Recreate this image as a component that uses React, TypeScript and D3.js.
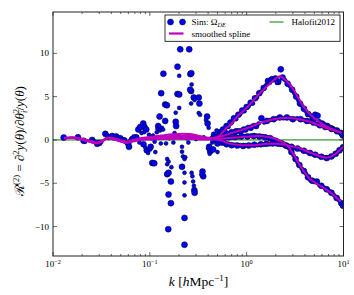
import React from 'react';
import * as d3 from 'd3';

const W = 354, H = 295;
const PL = 53, PR = 343.5, PT = 12, PB = 256;

const kDomain: [number, number] = [0.01, 10];
const rDomain: [number, number] = [-13.4, 14.77];
const xMajor = [0.01, 0.1, 1, 10];
const xMajorExp = ['−2', '−1', '0', '1'];
const yMajor = [-10, -5, 0, 5, 10];
const yMajorLabels = ['−10', '−5', '0', '5', '10'];
const minorMult = [2, 3, 4, 5, 6, 7, 8, 9];

// smoothed spline curves (k, R2)
const splineA: [number, number][] = [[0.013,0.25],[0.016,0.32],[0.02,0.15],[0.024,-0.1],[0.028,-0.3],[0.032,-0.1],[0.036,0.25],[0.042,0.22],[0.05,-0.02],[0.058,-0.18],[0.068,0.02],[0.08,0.2],[0.1,0.35],[0.13,0.5],[0.17,0.65],[0.22,0.72],[0.28,0.62],[0.35,0.38],[0.45,0.2],[0.52,0.45],[0.6,1.2],[0.7,1.9],[0.8,2.7],[1.0,3.7],[1.2,4.7],[1.4,5.5],[1.7,6.4],[2.0,7.1],[2.2,7.35],[2.45,7.0],[2.8,6.4],[3.2,5.4],[3.7,4.2],[4.3,3.2],[5.0,2.5],[6.0,1.85],[7.0,1.45],[8.0,1.15],[9.0,0.9],[9.5,0.8]];
const splineB: [number, number][] = [[0.013,0.2],[0.016,0.28],[0.02,0.1],[0.024,-0.15],[0.028,-0.35],[0.032,-0.15],[0.036,0.2],[0.042,0.16],[0.05,-0.08],[0.058,-0.25],[0.068,-0.05],[0.08,0.15],[0.1,0.25],[0.13,0.35],[0.17,0.45],[0.22,0.52],[0.28,0.45],[0.35,0.3],[0.45,0.2],[0.52,0.35],[0.7,0.8],[1.0,1.35],[1.5,2.1],[2.2,2.5],[3.0,2.5],[4.5,2.1],[6.2,1.5],[8.5,1.0],[9.5,0.85]];
const splineC: [number, number][] = [[0.013,0.18],[0.016,0.24],[0.02,0.05],[0.024,-0.2],[0.028,-0.42],[0.032,-0.2],[0.036,0.18],[0.042,0.1],[0.05,-0.15],[0.058,-0.3],[0.068,-0.1],[0.08,0.08],[0.1,0.18],[0.13,0.25],[0.17,0.3],[0.22,0.36],[0.28,0.3],[0.35,0.2],[0.45,0.12],[0.53,0.15],[0.85,0.3],[1.37,0.45],[1.89,0.2],[2.6,-0.6],[3.06,-1.7],[3.57,-3.0],[4.5,-4.5],[5.95,-5.4],[7.5,-6.15],[8.9,-6.9],[9.4,-7.1]];
const splineD: [number, number][] = [[0.013,0.2],[0.016,0.22],[0.02,0.02],[0.024,-0.22],[0.028,-0.38],[0.032,-0.22],[0.036,0.15],[0.042,0.08],[0.05,-0.18],[0.058,-0.32],[0.068,-0.15],[0.08,0.0],[0.1,0.05],[0.13,0.1],[0.17,0.12],[0.22,0.15],[0.28,0.1],[0.35,0.05],[0.45,0.05],[0.53,0.0],[0.65,-0.4],[0.9,-0.6],[1.2,-0.6],[1.6,-0.45],[2.0,-0.45],[2.6,-0.6],[3.5,-0.95],[4.5,-1.45],[5.5,-1.8],[6.6,-2.05],[7.5,-1.9],[8.5,-1.5],[9.5,-1.0],[10,-0.8]];

// simulation points, large markers
const simLargeMid: [number, number][] = [[0.0129,0.27],[0.0181,0.3],[0.0207,-0.1],[0.0254,0.0],[0.0286,-0.45],[0.03,-0.35],[0.0347,0.7],[0.0372,0.35],[0.0409,0.45],[0.045,0.4],[0.0495,0.2],[0.0544,-0.05],[0.0598,-0.4],[0.061,-0.8],[0.0658,0.1],[0.0724,0.3],[0.076,1.2],[0.0796,1.5],[0.0855,1.9],[0.088,1.5],[0.0918,1.2],[0.086,-0.5],[0.093,-1.2],[0.102,-0.8],[0.106,-2.65],[0.111,-2.7],[0.122,1.6],[0.126,2.7],[0.131,5.4],[0.138,7.65],[0.144,4.1],[0.15,4.0],[0.144,2.2],[0.155,-10.3],[0.156,-6.3],[0.165,-7.3],[0.165,-4.8],[0.151,-3.95],[0.156,-3.8],[0.193,8.46],[0.206,10.46],[0.255,10.46],[0.193,5.3],[0.201,5.25],[0.185,2.1],[0.187,1.6],[0.228,-12.1],[0.228,-9.0],[0.215,-3.1],[0.262,7.6],[0.268,7.7],[0.267,5.65],[0.261,5.8],[0.284,4.9],[0.288,-5.8],[0.29,-6.1],[0.32,4.9],[0.325,4.2],[0.35,-3.65],[0.356,-4.2],[0.39,2.7],[0.395,1.9],[0.41,-0.8],[0.42,-1.3],[0.46,0.6],[0.48,0.0],[0.5,-0.4],[0.45,-1.1]];
const simSmallMid: [number, number][] = [[0.0215,-0.2],[0.0262,-0.1],[0.0279,-0.3],[0.0315,-0.25],[0.036,0.55],[0.0385,0.25],[0.042,0.2],[0.047,0.1],[0.052,0.05],[0.057,-0.3],[0.063,-0.05],[0.068,0.4],[0.07,0.0],[0.078,-0.3],[0.082,0.8],[0.087,0.9],[0.09,-0.9],[0.096,-1.5],[0.098,0.6],[0.101,-1.1],[0.104,0.2],[0.108,0.5],[0.112,-0.2],[0.114,-1.4],[0.118,0.9],[0.12,1.3],[0.128,1.1],[0.133,1.4],[0.137,1.2],[0.13,-0.4],[0.14,0.3],[0.147,-0.4],[0.151,-2.2],[0.156,-2.5],[0.151,-2.8],[0.167,-3.15],[0.16,0.2],[0.17,0.3],[0.175,-0.3],[0.18,0.8],[0.185,3.15],[0.201,3.7],[0.201,7.4],[0.21,0.3],[0.215,-0.8],[0.215,-1.35],[0.22,-1.9],[0.228,-2.2],[0.232,-2.0],[0.228,-3.8],[0.228,-4.9],[0.228,-6.4],[0.24,0.2],[0.25,-0.3],[0.26,0.5],[0.267,4.2],[0.27,6.4],[0.27,-3.8],[0.275,-4.2],[0.28,-4.8],[0.285,-5.3],[0.29,4.6],[0.3,0.1],[0.32,3.1],[0.33,2.9],[0.34,-4.0],[0.36,0.3],[0.38,2.3],[0.4,-1.0],[0.405,1.4],[0.415,-1.6],[0.43,0.2],[0.44,-0.3],[0.47,0.4],[0.49,1.1],[0.5,-1.4]];
const simLargeA: [number, number][] = [[0.53,0.9],[0.57,1.2],[0.62,1.6],[0.68,2.0],[0.74,2.5],[0.82,2.9],[0.9,3.4],[1.0,3.8],[1.1,4.3],[1.22,4.8],[1.35,5.4],[1.5,6.0],[1.66,6.8],[1.82,7.0],[1.98,7.1],[2.12,6.7],[2.25,8.15],[2.35,7.2],[2.65,6.5],[2.95,5.8],[3.25,5.0],[3.55,4.2],[3.9,3.6],[4.3,3.0],[4.8,2.6],[5.1,2.9],[5.4,2.8],[6.0,1.9],[6.8,1.6],[7.6,1.3],[8.5,1.1],[9.5,0.8],[9.9,0.5]];
const simSmallA: [number, number][] = [[0.51,0.5],[0.55,0.7],[0.6,1.1],[0.65,1.5],[0.71,2.1],[0.78,2.4],[0.86,3.0],[0.95,3.3],[1.05,3.9],[1.16,4.2],[1.28,4.9],[1.42,5.6],[1.58,6.3],[1.74,6.6],[1.9,6.9],[2.05,6.6],[2.5,6.9],[2.8,6.2],[3.1,5.4],[3.4,4.6],[3.7,4.0],[4.1,3.3],[4.5,2.9],[5.6,2.2],[6.4,1.8],[7.2,1.5],[8.0,1.2],[9.0,0.9]];
const simLargeB: [number, number][] = [[0.55,0.5],[0.62,0.7],[0.7,0.9],[0.78,1.0],[0.87,1.0],[0.97,1.2],[1.1,1.4],[1.25,1.6],[1.42,2.5],[1.62,2.2],[1.9,2.4],[2.2,2.6],[2.6,2.6],[3.0,2.4],[3.6,2.4],[4.2,2.2],[4.9,2.0],[5.7,1.7],[6.5,1.5],[7.5,1.3],[8.6,1.0],[9.8,0.6]];
const simSmallB: [number, number][] = [[0.52,0.3],[0.58,0.4],[0.66,0.6],[0.74,0.8],[0.82,1.1],[0.92,1.3],[1.03,1.5],[1.17,1.7],[1.33,1.9],[1.52,2.0],[1.75,2.3],[2.05,2.5],[2.4,2.5],[2.8,2.5],[3.3,2.5],[3.9,2.3],[4.5,2.1],[5.3,1.8],[6.1,1.6],[7.0,1.4],[8.0,1.2],[9.2,0.9]];
const simLargeC: [number, number][] = [[0.56,0.2],[0.65,0.3],[0.76,0.35],[0.88,0.4],[1.02,0.4],[1.18,0.45],[1.35,0.4],[1.55,0.3],[1.75,0.2],[2.0,-0.1],[2.3,-0.4],[2.6,-0.7],[2.9,-1.4],[3.2,-2.2],[3.5,-2.9],[3.9,-3.6],[4.3,-4.3],[4.75,-4.7],[5.3,-4.8],[5.9,-5.3],[6.7,-5.7],[7.5,-6.1],[8.5,-6.7],[9.5,-7.3],[9.9,-7.6]];
const simSmallC: [number, number][] = [[0.52,0.1],[0.6,0.15],[0.7,0.25],[0.82,0.3],[0.95,0.45],[1.1,0.5],[1.26,0.5],[1.45,0.45],[1.65,0.3],[1.88,0.1],[2.15,-0.2],[2.45,-0.5],[2.75,-1.0],[3.05,-1.8],[3.35,-2.6],[3.7,-3.3],[4.1,-3.9],[4.5,-4.6],[5.0,-4.85],[5.6,-5.2],[6.3,-5.5],[7.1,-5.9],[8.0,-6.4],[9.0,-7.0]];
const simLargeD: [number, number][] = [[0.55,-0.3],[0.62,-0.5],[0.7,-0.6],[0.8,-0.65],[0.92,-0.7],[1.05,-0.65],[1.2,-0.55],[1.4,-0.5],[1.6,-0.45],[1.85,-0.4],[2.15,-0.45],[2.5,-0.6],[2.9,-0.8],[3.35,-1.0],[3.9,-1.25],[4.5,-1.5],[5.1,-1.7],[5.9,-1.95],[6.7,-2.1],[7.5,-1.9],[8.3,-1.6],[9.1,-1.2],[9.9,-0.85]];
const simSmallD: [number, number][] = [[0.52,-0.1],[0.58,-0.4],[0.66,-0.45],[0.75,-0.55],[0.86,-0.6],[0.98,-0.6],[1.12,-0.6],[1.3,-0.6],[1.5,-0.55],[1.72,-0.5],[2.0,-0.5],[2.3,-0.55],[2.7,-0.7],[3.1,-0.9],[3.6,-1.1],[4.2,-1.4],[4.8,-1.65],[5.5,-1.85],[6.3,-2.0],[7.1,-2.0],[7.9,-1.8],[8.7,-1.4],[9.5,-1.0]];

const halofit: [number, number][] = [[0.01, 0], [10, 0]];

const FONT = "'Liberation Serif', 'DejaVu Serif', serif";
const BLUE = '#0000ff';
const MAG = '#bf00bf';
const GREEN = '#008000';

export default function App() {
  const x = d3.scaleLog().domain(kDomain).range([PL, PR]);
  const y = d3.scaleLinear().domain(rDomain).range([PB, PT]);
  const line = d3.line<[number, number]>()
    .x(d => x(d[0]))
    .y(d => y(d[1]))
    .curve(d3.curveCatmullRom.alpha(0.5));
  const lineStraight = d3.line<[number, number]>().x(d => x(d[0])).y(d => y(d[1]));

  const minorTicks: number[] = [];
  [0.01, 0.1, 1].forEach(dec => minorMult.forEach(m => minorTicks.push(dec * m)));

  const large = [...simLargeMid, ...simLargeA, ...simLargeB, ...simLargeC, ...simLargeD];
  const small = [...simSmallMid, ...simSmallA, ...simSmallB, ...simSmallC, ...simSmallD];
  const splines = [splineD, splineC, splineB, splineA];

  return (
    <svg width={W} height={H} style={{ position: 'absolute', left: 0, top: 0, background: '#fff' }} fontFamily={FONT}>
      <rect x={0} y={0} width={W} height={H} fill="#fff" />
      <defs>
        <clipPath id="plotclip">
          <rect x={PL} y={PT} width={PR - PL} height={PB - PT} />
        </clipPath>
      </defs>
      <g clipPath="url(#plotclip)">
        <path d={lineStraight(halofit) || ''} stroke={GREEN} strokeWidth={1} fill="none" />
        {large.map((d, i) => (
          <circle key={'L' + i} cx={x(d[0])} cy={y(d[1])} r={3} fill={BLUE} stroke="#000" strokeWidth={0.5} />
        ))}
        {small.map((d, i) => (
          <circle key={'S' + i} cx={x(d[0])} cy={y(d[1])} r={2} fill={BLUE} stroke="#000" strokeWidth={0.5} />
        ))}
        {splines.map((s, i) => (
          <path key={'sp' + i} d={line(s) || ''} stroke={MAG} strokeWidth={2} fill="none" strokeLinejoin="round" />
        ))}
      </g>

      {/* ticks */}
      <g stroke="#000" strokeWidth={0.6}>
        {xMajor.map((t, i) => (
          <g key={'xm' + i}>
            <line x1={x(t)} x2={x(t)} y1={PB} y2={PB - 4} />
            <line x1={x(t)} x2={x(t)} y1={PT} y2={PT + 4} />
          </g>
        ))}
        {minorTicks.map((t, i) => (
          <g key={'xn' + i}>
            <line x1={x(t)} x2={x(t)} y1={PB} y2={PB - 2} />
            <line x1={x(t)} x2={x(t)} y1={PT} y2={PT + 2} />
          </g>
        ))}
        {yMajor.map((t, i) => (
          <g key={'ym' + i}>
            <line x1={PL} x2={PL + 4} y1={y(t)} y2={y(t)} />
            <line x1={PR} x2={PR - 4} y1={y(t)} y2={y(t)} />
          </g>
        ))}
      </g>
      <rect x={PL} y={PT} width={PR - PL} height={PB - PT} fill="none" stroke="#222" strokeWidth={1} />

      {/* tick labels */}
      {xMajor.map((t, i) => (
        <text key={'xl' + i} x={x(t)} y={267} textAnchor="middle" fontSize={9} fill="#000">
          10<tspan dy={-3.5} fontSize={6.3}>{xMajorExp[i]}</tspan>
        </text>
      ))}
      {yMajor.map((t, i) => (
        <text key={'yl' + i} x={49} y={y(t) + 3} textAnchor="end" fontSize={9} fill="#000">
          {yMajorLabels[i]}
        </text>
      ))}

      {/* axis labels */}
      <text x={198.5} y={286} textAnchor="middle" fontSize={13.5} fill="#000">
        <tspan fontStyle="italic">k</tspan> [<tspan fontStyle="italic">h</tspan>Mpc<tspan dy={-5} fontSize={9}>−1</tspan><tspan dy={5}>]</tspan>
      </text>
      <text transform="translate(24,141) rotate(-90)" textAnchor="middle" fontSize={13} fill="#000">
        ℛ<tspan dy={-5} fontSize={8.5}>(2)</tspan><tspan dy={5}> = ∂</tspan><tspan dy={-5} fontSize={8.5}>2</tspan><tspan dy={5} fontStyle="italic">y</tspan>(<tspan fontStyle="italic">θ</tspan>)/∂<tspan fontStyle="italic">θ</tspan><tspan dy={-5} fontSize={8.5}>2</tspan><tspan dy={8} dx={-4} fontSize={8.5} fontStyle="italic">i</tspan><tspan dy={-3}>/</tspan><tspan fontStyle="italic">y</tspan>(<tspan fontStyle="italic">θ</tspan>)
      </text>

      {/* legend */}
      <g>
        <rect x={165} y={15} width={175} height={26.3} fill="#fff" stroke="#000" strokeWidth={0.8} />
        <circle cx={170.5} cy={22} r={3} fill={BLUE} stroke="#000" strokeWidth={0.5} />
        <circle cx={182.5} cy={22} r={3} fill={BLUE} stroke="#000" strokeWidth={0.5} />
        <text x={191.5} y={25} fontSize={9} fill="#000">
          Sim: Ω<tspan dy={2} fontSize={6.3} fontStyle="italic">DE</tspan>
        </text>
        <line x1={269.5} x2={283.5} y1={22} y2={22} stroke={GREEN} strokeWidth={1} />
        <text x={291.5} y={25} fontSize={9} fill="#000">Halofit2012</text>
        <line x1={169} x2={183.5} y1={33.5} y2={33.5} stroke={MAG} strokeWidth={2.2} />
        <text x={191.5} y={36.5} fontSize={9} fill="#000">smoothed spline</text>
      </g>
    </svg>
  );
}
